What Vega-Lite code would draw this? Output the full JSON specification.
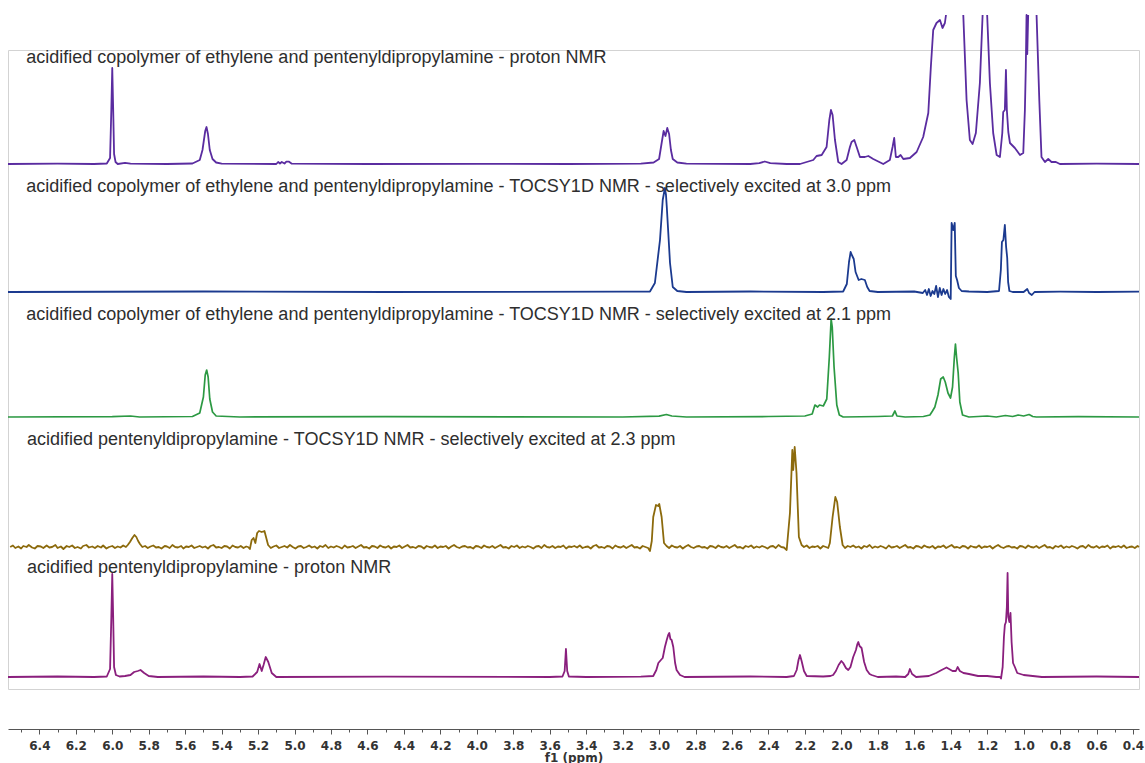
{
  "$schema": "https://vega.github.io/schema/vega-lite/v6.json",
  "autosize": "none",
  "width": 1131,
  "height": 639,
  "padding": {"left": 8, "top": 50, "right": 6, "bottom": 74},
  "background": "white",
  "config": {
    "view": {"stroke": "#d3d3d3", "strokeWidth": 1},
    "line": {"strokeWidth": 1.6, "invalid": "break-paths-filter-domains", "strokeJoin": "round"}
  },
  "datasets": {
    "copolymer_proton": [
      {"ppm": 6.572, "i": 0}, {"ppm": 6.3, "i": 0.3}, {"ppm": 6.1, "i": 0}, {"ppm": 6.03, "i": 0.5},
      {"ppm": 6.012, "i": 6}, {"ppm": 6.005, "i": 55}, {"ppm": 6.0, "i": 96}, {"ppm": 5.995, "i": 55},
      {"ppm": 5.99, "i": 10}, {"ppm": 5.982, "i": 2}, {"ppm": 5.97, "i": 0}, {"ppm": 5.93, "i": 1.2},
      {"ppm": 5.9, "i": 0.3}, {"ppm": 5.7, "i": 0}, {"ppm": 5.56, "i": 0.5}, {"ppm": 5.52, "i": 4},
      {"ppm": 5.505, "i": 14}, {"ppm": 5.49, "i": 33}, {"ppm": 5.483, "i": 37}, {"ppm": 5.475, "i": 30},
      {"ppm": 5.465, "i": 14}, {"ppm": 5.45, "i": 5}, {"ppm": 5.43, "i": 1.5}, {"ppm": 5.4, "i": 0.3},
      {"ppm": 5.1, "i": 0}, {"ppm": 5.09, "i": 2}, {"ppm": 5.08, "i": 0.5}, {"ppm": 5.07, "i": 2},
      {"ppm": 5.055, "i": 0.5}, {"ppm": 5.045, "i": 2.3}, {"ppm": 5.03, "i": 2.3}, {"ppm": 5.015, "i": 0.3},
      {"ppm": 4.6, "i": 0}, {"ppm": 4.0, "i": 0.2}, {"ppm": 3.5, "i": 0}, {"ppm": 3.1, "i": 0.3},
      {"ppm": 3.03, "i": 1.5}, {"ppm": 3.0, "i": 5}, {"ppm": 2.985, "i": 22}, {"ppm": 2.975, "i": 33},
      {"ppm": 2.965, "i": 28}, {"ppm": 2.955, "i": 36}, {"ppm": 2.945, "i": 30}, {"ppm": 2.935, "i": 14},
      {"ppm": 2.925, "i": 5}, {"ppm": 2.9, "i": 1.5}, {"ppm": 2.85, "i": 0.3}, {"ppm": 2.5, "i": 0},
      {"ppm": 2.45, "i": 0.8}, {"ppm": 2.42, "i": 2.5}, {"ppm": 2.39, "i": 0.8}, {"ppm": 2.3, "i": 0},
      {"ppm": 2.227, "i": 0}, {"ppm": 2.154, "i": 4}, {"ppm": 2.136, "i": 8}, {"ppm": 2.108, "i": 9},
      {"ppm": 2.081, "i": 17}, {"ppm": 2.066, "i": 44}, {"ppm": 2.057, "i": 54}, {"ppm": 2.048, "i": 49},
      {"ppm": 2.035, "i": 24}, {"ppm": 2.017, "i": 2}, {"ppm": 1.999, "i": 0}, {"ppm": 1.971, "i": 4},
      {"ppm": 1.953, "i": 17}, {"ppm": 1.944, "i": 22}, {"ppm": 1.929, "i": 24}, {"ppm": 1.916, "i": 17},
      {"ppm": 1.898, "i": 7}, {"ppm": 1.871, "i": 7}, {"ppm": 1.852, "i": 8}, {"ppm": 1.825, "i": 5},
      {"ppm": 1.77, "i": 0}, {"ppm": 1.734, "i": 4}, {"ppm": 1.719, "i": 17}, {"ppm": 1.71, "i": 26},
      {"ppm": 1.701, "i": 7}, {"ppm": 1.688, "i": 7}, {"ppm": 1.675, "i": 9}, {"ppm": 1.66, "i": 5},
      {"ppm": 1.624, "i": 6}, {"ppm": 1.587, "i": 12}, {"ppm": 1.551, "i": 27}, {"ppm": 1.523, "i": 51},
      {"ppm": 1.509, "i": 97}, {"ppm": 1.496, "i": 134}, {"ppm": 1.478, "i": 141}, {"ppm": 1.459, "i": 144},
      {"ppm": 1.445, "i": 136}, {"ppm": 1.432, "i": 141}, {"ppm": 1.426, "i": 149}, {"ppm": 1.38, "i": null},
      {"ppm": 1.331, "i": 149}, {"ppm": 1.313, "i": 64}, {"ppm": 1.295, "i": 24}, {"ppm": 1.28, "i": 20},
      {"ppm": 1.262, "i": 31}, {"ppm": 1.24, "i": 81}, {"ppm": 1.225, "i": 149}, {"ppm": 1.21, "i": null},
      {"ppm": 1.2, "i": 149}, {"ppm": 1.185, "i": 81}, {"ppm": 1.167, "i": 31}, {"ppm": 1.148, "i": 9},
      {"ppm": 1.13, "i": 7}, {"ppm": 1.117, "i": 31}, {"ppm": 1.112, "i": 52}, {"ppm": 1.103, "i": 54},
      {"ppm": 1.097, "i": 94}, {"ppm": 1.092, "i": 54}, {"ppm": 1.084, "i": 32}, {"ppm": 1.075, "i": 21},
      {"ppm": 1.048, "i": 16}, {"ppm": 1.02, "i": 9}, {"ppm": 1.002, "i": 11}, {"ppm": 0.993, "i": 54},
      {"ppm": 0.988, "i": 97}, {"ppm": 0.984, "i": 149}, {"ppm": 0.98, "i": 110}, {"ppm": 0.975, "i": 149},
      {"ppm": 0.95, "i": null}, {"ppm": 0.929, "i": 149}, {"ppm": 0.914, "i": 64}, {"ppm": 0.902, "i": 7},
      {"ppm": 0.883, "i": 2}, {"ppm": 0.865, "i": 5}, {"ppm": 0.847, "i": 2}, {"ppm": 0.823, "i": 2},
      {"ppm": 0.801, "i": 0}, {"ppm": 0.6, "i": 0.3}, {"ppm": 0.367, "i": 0}
    ],
    "copolymer_tocsy_30": [
      {"ppm": 6.572, "i": 0}, {"ppm": 5.5, "i": 0.5}, {"ppm": 4.5, "i": 0}, {"ppm": 3.2, "i": 0.3},
      {"ppm": 3.05, "i": 0.5}, {"ppm": 3.023, "i": 9}, {"ppm": 2.995, "i": 52}, {"ppm": 2.98, "i": 92},
      {"ppm": 2.972, "i": 100}, {"ppm": 2.968, "i": 104}, {"ppm": 2.962, "i": 97}, {"ppm": 2.958, "i": 86},
      {"ppm": 2.951, "i": 64}, {"ppm": 2.94, "i": 29}, {"ppm": 2.925, "i": 5}, {"ppm": 2.9, "i": 1},
      {"ppm": 2.85, "i": 0}, {"ppm": 2.5, "i": 0.5}, {"ppm": 2.1, "i": 0}, {"ppm": 1.99, "i": 0.5},
      {"ppm": 1.97, "i": 8}, {"ppm": 1.958, "i": 30}, {"ppm": 1.949, "i": 40}, {"ppm": 1.94, "i": 36},
      {"ppm": 1.932, "i": 33}, {"ppm": 1.922, "i": 20}, {"ppm": 1.905, "i": 12}, {"ppm": 1.89, "i": 13},
      {"ppm": 1.871, "i": 12}, {"ppm": 1.858, "i": 5}, {"ppm": 1.845, "i": 1}, {"ppm": 1.8, "i": 0},
      {"ppm": 1.6, "i": 0.5}, {"ppm": 1.553, "i": -1}, {"ppm": 1.54, "i": 2}, {"ppm": 1.53, "i": -3},
      {"ppm": 1.52, "i": 3}, {"ppm": 1.51, "i": -4}, {"ppm": 1.5, "i": 1}, {"ppm": 1.49, "i": -2},
      {"ppm": 1.48, "i": 6}, {"ppm": 1.47, "i": -5}, {"ppm": 1.46, "i": 4}, {"ppm": 1.45, "i": -3},
      {"ppm": 1.44, "i": 3}, {"ppm": 1.43, "i": -2}, {"ppm": 1.42, "i": 2}, {"ppm": 1.41, "i": -5},
      {"ppm": 1.40, "i": -7}, {"ppm": 1.395, "i": 69}, {"ppm": 1.386, "i": 62}, {"ppm": 1.378, "i": 69},
      {"ppm": 1.372, "i": 16}, {"ppm": 1.365, "i": 12}, {"ppm": 1.355, "i": 4}, {"ppm": 1.34, "i": 1},
      {"ppm": 1.3, "i": 0.5}, {"ppm": 1.2, "i": 0}, {"ppm": 1.135, "i": 1}, {"ppm": 1.125, "i": 22},
      {"ppm": 1.119, "i": 50}, {"ppm": 1.111, "i": 52}, {"ppm": 1.103, "i": 67}, {"ppm": 1.096, "i": 45},
      {"ppm": 1.09, "i": 34}, {"ppm": 1.085, "i": 10}, {"ppm": 1.078, "i": 1}, {"ppm": 1.06, "i": 0},
      {"ppm": 1.0, "i": 0}, {"ppm": 0.98, "i": 3}, {"ppm": 0.97, "i": -1}, {"ppm": 0.955, "i": -3},
      {"ppm": 0.94, "i": 0}, {"ppm": 0.8, "i": 0.3}, {"ppm": 0.6, "i": 0}, {"ppm": 0.367, "i": 0.3}
    ],
    "copolymer_tocsy_21": [
      {"ppm": 6.572, "i": 0}, {"ppm": 6.0, "i": 0.3}, {"ppm": 5.9, "i": 1}, {"ppm": 5.85, "i": 0},
      {"ppm": 5.56, "i": 0.5}, {"ppm": 5.52, "i": 4}, {"ppm": 5.5, "i": 20}, {"ppm": 5.49, "i": 42},
      {"ppm": 5.482, "i": 47}, {"ppm": 5.474, "i": 40}, {"ppm": 5.465, "i": 18}, {"ppm": 5.45, "i": 5},
      {"ppm": 5.43, "i": 1}, {"ppm": 5.3, "i": 0}, {"ppm": 4.5, "i": 0.3}, {"ppm": 3.2, "i": 0},
      {"ppm": 3.0, "i": 0.8}, {"ppm": 2.96, "i": 2.5}, {"ppm": 2.93, "i": 1}, {"ppm": 2.85, "i": 0},
      {"ppm": 2.4, "i": 0.5}, {"ppm": 2.2, "i": 1}, {"ppm": 2.16, "i": 3}, {"ppm": 2.145, "i": 12},
      {"ppm": 2.13, "i": 10}, {"ppm": 2.12, "i": 12}, {"ppm": 2.099, "i": 11}, {"ppm": 2.08, "i": 18},
      {"ppm": 2.066, "i": 60}, {"ppm": 2.056, "i": 98}, {"ppm": 2.05, "i": 90}, {"ppm": 2.04, "i": 50},
      {"ppm": 2.025, "i": 12}, {"ppm": 2.011, "i": 2}, {"ppm": 1.99, "i": 0}, {"ppm": 1.8, "i": 0.5},
      {"ppm": 1.72, "i": 1}, {"ppm": 1.706, "i": 6}, {"ppm": 1.695, "i": 1}, {"ppm": 1.65, "i": 0},
      {"ppm": 1.55, "i": 0.5}, {"ppm": 1.514, "i": 2}, {"ppm": 1.5, "i": 6}, {"ppm": 1.487, "i": 10},
      {"ppm": 1.47, "i": 22}, {"ppm": 1.455, "i": 38}, {"ppm": 1.441, "i": 40}, {"ppm": 1.43, "i": 35},
      {"ppm": 1.415, "i": 24}, {"ppm": 1.401, "i": 19}, {"ppm": 1.39, "i": 30}, {"ppm": 1.38, "i": 60},
      {"ppm": 1.374, "i": 73}, {"ppm": 1.368, "i": 60}, {"ppm": 1.359, "i": 44}, {"ppm": 1.35, "i": 15},
      {"ppm": 1.335, "i": 2}, {"ppm": 1.3, "i": 0}, {"ppm": 1.2, "i": 1}, {"ppm": 1.15, "i": 0},
      {"ppm": 1.1, "i": 1.5}, {"ppm": 1.06, "i": 0.5}, {"ppm": 1.03, "i": 2}, {"ppm": 1.0, "i": 1},
      {"ppm": 0.97, "i": 2.5}, {"ppm": 0.95, "i": 0.5}, {"ppm": 0.93, "i": 0}, {"ppm": 0.7, "i": 0.3},
      {"ppm": 0.367, "i": 0}
    ],
    "pentenyl_tocsy_23": [
      {"ppm": 6.56, "i": 0}, {"ppm": 6.545, "i": 1.5}, {"ppm": 6.532, "i": -1}, {"ppm": 6.515, "i": 0.5},
      {"ppm": 6.5, "i": -1.5}, {"ppm": 6.488, "i": 1}, {"ppm": 6.47, "i": 0}, {"ppm": 6.458, "i": 2},
      {"ppm": 6.44, "i": -0.5}, {"ppm": 6.425, "i": -1.5}, {"ppm": 6.41, "i": 1}, {"ppm": 6.392, "i": 0.5},
      {"ppm": 6.378, "i": -1}, {"ppm": 6.36, "i": 1.5}, {"ppm": 6.345, "i": -0.5}, {"ppm": 6.33, "i": 0},
      {"ppm": 6.312, "i": 2}, {"ppm": 6.3, "i": -1}, {"ppm": 6.282, "i": 0.5}, {"ppm": 6.268, "i": -2},
      {"ppm": 6.25, "i": 1}, {"ppm": 6.236, "i": 0}, {"ppm": 6.22, "i": 1.5}, {"ppm": 6.205, "i": -1},
      {"ppm": 6.19, "i": 0}, {"ppm": 6.172, "i": -1.5}, {"ppm": 6.16, "i": 1}, {"ppm": 6.142, "i": 2},
      {"ppm": 6.128, "i": -0.5}, {"ppm": 6.11, "i": 0.5}, {"ppm": 6.095, "i": -1}, {"ppm": 6.08, "i": 1},
      {"ppm": 6.062, "i": -0.5}, {"ppm": 6.05, "i": 1.5}, {"ppm": 6.032, "i": -1.5}, {"ppm": 6.018, "i": 0},
      {"ppm": 6.0, "i": 1}, {"ppm": 5.985, "i": -1}, {"ppm": 5.97, "i": 0.5}, {"ppm": 5.955, "i": -0.5},
      {"ppm": 5.94, "i": 1.5}, {"ppm": 5.925, "i": 0}, {"ppm": 5.915, "i": 2}, {"ppm": 5.903, "i": 5},
      {"ppm": 5.89, "i": 9}, {"ppm": 5.878, "i": 12}, {"ppm": 5.868, "i": 10}, {"ppm": 5.858, "i": 6},
      {"ppm": 5.848, "i": 3}, {"ppm": 5.835, "i": 0}, {"ppm": 5.82, "i": 1}, {"ppm": 5.805, "i": -1},
      {"ppm": 5.79, "i": 0.5}, {"ppm": 5.775, "i": 1.5}, {"ppm": 5.76, "i": -0.5}, {"ppm": 5.745, "i": 0},
      {"ppm": 5.73, "i": -1.5}, {"ppm": 5.712, "i": 1}, {"ppm": 5.7, "i": 0.5}, {"ppm": 5.685, "i": -1},
      {"ppm": 5.67, "i": 2}, {"ppm": 5.655, "i": 0}, {"ppm": 5.64, "i": -0.5}, {"ppm": 5.622, "i": 1},
      {"ppm": 5.61, "i": -1.5}, {"ppm": 5.595, "i": 0.5}, {"ppm": 5.58, "i": 0}, {"ppm": 5.565, "i": 1.5},
      {"ppm": 5.55, "i": -1}, {"ppm": 5.535, "i": 0}, {"ppm": 5.52, "i": 1}, {"ppm": 5.505, "i": -0.5},
      {"ppm": 5.49, "i": 0.5}, {"ppm": 5.475, "i": -1.5}, {"ppm": 5.46, "i": 1}, {"ppm": 5.445, "i": 2},
      {"ppm": 5.43, "i": -0.5}, {"ppm": 5.415, "i": 0}, {"ppm": 5.4, "i": -1}, {"ppm": 5.385, "i": 1},
      {"ppm": 5.37, "i": 0.5}, {"ppm": 5.355, "i": -1.5}, {"ppm": 5.34, "i": 1.5}, {"ppm": 5.325, "i": 0},
      {"ppm": 5.31, "i": -0.5}, {"ppm": 5.295, "i": 1}, {"ppm": 5.28, "i": -1}, {"ppm": 5.265, "i": 0.5},
      {"ppm": 5.255, "i": 0}, {"ppm": 5.245, "i": -2}, {"ppm": 5.235, "i": 7}, {"ppm": 5.225, "i": 9},
      {"ppm": 5.215, "i": 4}, {"ppm": 5.205, "i": 14}, {"ppm": 5.195, "i": 16}, {"ppm": 5.18, "i": 15},
      {"ppm": 5.165, "i": 16}, {"ppm": 5.155, "i": 9}, {"ppm": 5.145, "i": 2}, {"ppm": 5.13, "i": -1},
      {"ppm": 5.115, "i": 0.5}, {"ppm": 5.1, "i": 1.5}, {"ppm": 5.085, "i": -1}, {"ppm": 5.07, "i": 0},
      {"ppm": 5.055, "i": 1}, {"ppm": 5.04, "i": -0.5}, {"ppm": 5.025, "i": 2}, {"ppm": 5.01, "i": 0},
      {"ppm": 4.995, "i": -1.5}, {"ppm": 4.98, "i": 0.5}, {"ppm": 4.965, "i": 1}, {"ppm": 4.95, "i": -1},
      {"ppm": 4.935, "i": 0}, {"ppm": 4.92, "i": 1.5}, {"ppm": 4.905, "i": -0.5}, {"ppm": 4.89, "i": 0.5},
      {"ppm": 4.875, "i": -1.5}, {"ppm": 4.86, "i": 1}, {"ppm": 4.845, "i": 0}, {"ppm": 4.83, "i": 2},
      {"ppm": 4.815, "i": -1}, {"ppm": 4.8, "i": 0.5}, {"ppm": 4.785, "i": -0.5}, {"ppm": 4.77, "i": 1},
      {"ppm": 4.755, "i": 0}, {"ppm": 4.74, "i": -1.5}, {"ppm": 4.725, "i": 1.5}, {"ppm": 4.71, "i": -0.5},
      {"ppm": 4.695, "i": 0}, {"ppm": 4.68, "i": 1}, {"ppm": 4.665, "i": -1}, {"ppm": 4.65, "i": 0.5},
      {"ppm": 4.635, "i": 2}, {"ppm": 4.62, "i": -0.5}, {"ppm": 4.605, "i": 0}, {"ppm": 4.59, "i": -1.5},
      {"ppm": 4.575, "i": 1}, {"ppm": 4.56, "i": 0.5}, {"ppm": 4.545, "i": -1}, {"ppm": 4.53, "i": 1.5},
      {"ppm": 4.515, "i": 0}, {"ppm": 4.5, "i": -0.5}, {"ppm": 4.485, "i": 1}, {"ppm": 4.47, "i": -1.5},
      {"ppm": 4.455, "i": 0.5}, {"ppm": 4.44, "i": 0}, {"ppm": 4.425, "i": 1.5}, {"ppm": 4.41, "i": -1},
      {"ppm": 4.395, "i": 0.5}, {"ppm": 4.38, "i": 2}, {"ppm": 4.365, "i": -0.5}, {"ppm": 4.35, "i": 0},
      {"ppm": 4.335, "i": -1}, {"ppm": 4.32, "i": 1}, {"ppm": 4.305, "i": 0.5}, {"ppm": 4.29, "i": -1.5},
      {"ppm": 4.275, "i": 1}, {"ppm": 4.26, "i": 0}, {"ppm": 4.245, "i": -0.5}, {"ppm": 4.23, "i": 1.5},
      {"ppm": 4.215, "i": -1}, {"ppm": 4.2, "i": 0.5}, {"ppm": 4.185, "i": 0}, {"ppm": 4.17, "i": 1},
      {"ppm": 4.155, "i": -1.5}, {"ppm": 4.14, "i": 0.5}, {"ppm": 4.125, "i": 2}, {"ppm": 4.11, "i": 0},
      {"ppm": 4.095, "i": -1}, {"ppm": 4.08, "i": 0.5}, {"ppm": 4.065, "i": 1}, {"ppm": 4.05, "i": -0.5},
      {"ppm": 4.035, "i": 0}, {"ppm": 4.02, "i": -1.5}, {"ppm": 4.005, "i": 1}, {"ppm": 3.99, "i": 0.5},
      {"ppm": 3.975, "i": -1}, {"ppm": 3.96, "i": 1.5}, {"ppm": 3.945, "i": 0}, {"ppm": 3.93, "i": -0.5},
      {"ppm": 3.915, "i": 1}, {"ppm": 3.9, "i": -1}, {"ppm": 3.885, "i": 0.5}, {"ppm": 3.87, "i": 2},
      {"ppm": 3.855, "i": -0.5}, {"ppm": 3.84, "i": 0}, {"ppm": 3.825, "i": -1.5}, {"ppm": 3.81, "i": 1},
      {"ppm": 3.795, "i": 0}, {"ppm": 3.78, "i": 1.5}, {"ppm": 3.765, "i": -1}, {"ppm": 3.75, "i": 0.5},
      {"ppm": 3.735, "i": -0.5}, {"ppm": 3.72, "i": 1}, {"ppm": 3.705, "i": 0}, {"ppm": 3.69, "i": -1.5},
      {"ppm": 3.675, "i": 0.5}, {"ppm": 3.66, "i": 1}, {"ppm": 3.645, "i": -1}, {"ppm": 3.63, "i": 2},
      {"ppm": 3.615, "i": 0}, {"ppm": 3.6, "i": -0.5}, {"ppm": 3.585, "i": 1}, {"ppm": 3.57, "i": -1},
      {"ppm": 3.555, "i": 0.5}, {"ppm": 3.54, "i": 0}, {"ppm": 3.525, "i": 1.5}, {"ppm": 3.51, "i": -1.5},
      {"ppm": 3.495, "i": 0.5}, {"ppm": 3.48, "i": 0}, {"ppm": 3.465, "i": 1}, {"ppm": 3.45, "i": -0.5},
      {"ppm": 3.435, "i": 1.5}, {"ppm": 3.42, "i": -1}, {"ppm": 3.405, "i": 0}, {"ppm": 3.39, "i": 0.5},
      {"ppm": 3.375, "i": -1.5}, {"ppm": 3.36, "i": 1}, {"ppm": 3.345, "i": 2}, {"ppm": 3.33, "i": -0.5},
      {"ppm": 3.315, "i": 0}, {"ppm": 3.3, "i": -1}, {"ppm": 3.285, "i": 1}, {"ppm": 3.27, "i": 0.5},
      {"ppm": 3.255, "i": -1.5}, {"ppm": 3.24, "i": 1.5}, {"ppm": 3.225, "i": 0}, {"ppm": 3.21, "i": -0.5},
      {"ppm": 3.195, "i": 1}, {"ppm": 3.18, "i": -1}, {"ppm": 3.165, "i": 0.5}, {"ppm": 3.15, "i": 2},
      {"ppm": 3.135, "i": -0.5}, {"ppm": 3.12, "i": 0}, {"ppm": 3.105, "i": -1.5}, {"ppm": 3.09, "i": 1},
      {"ppm": 3.075, "i": 0}, {"ppm": 3.06, "i": -1}, {"ppm": 3.05, "i": -4}, {"ppm": 3.04, "i": 6},
      {"ppm": 3.032, "i": 30}, {"ppm": 3.017, "i": 42}, {"ppm": 3.005, "i": 41}, {"ppm": 2.999, "i": 43},
      {"ppm": 2.986, "i": 30}, {"ppm": 2.973, "i": 4}, {"ppm": 2.959, "i": 1}, {"ppm": 2.945, "i": -1},
      {"ppm": 2.93, "i": 1.5}, {"ppm": 2.915, "i": 0}, {"ppm": 2.9, "i": -0.5}, {"ppm": 2.885, "i": 1},
      {"ppm": 2.87, "i": -1.5}, {"ppm": 2.855, "i": 0.5}, {"ppm": 2.84, "i": 2}, {"ppm": 2.825, "i": 0},
      {"ppm": 2.81, "i": -1}, {"ppm": 2.795, "i": 0.5}, {"ppm": 2.78, "i": 1}, {"ppm": 2.765, "i": -0.5},
      {"ppm": 2.75, "i": 0}, {"ppm": 2.735, "i": -1.5}, {"ppm": 2.72, "i": 1}, {"ppm": 2.705, "i": 0.5},
      {"ppm": 2.69, "i": -1}, {"ppm": 2.675, "i": 1.5}, {"ppm": 2.66, "i": 0}, {"ppm": 2.645, "i": -0.5},
      {"ppm": 2.63, "i": 1}, {"ppm": 2.615, "i": -1}, {"ppm": 2.6, "i": 0.5}, {"ppm": 2.585, "i": 2},
      {"ppm": 2.57, "i": -0.5}, {"ppm": 2.555, "i": 0}, {"ppm": 2.54, "i": -1.5}, {"ppm": 2.525, "i": 1},
      {"ppm": 2.51, "i": 0}, {"ppm": 2.495, "i": 1.5}, {"ppm": 2.48, "i": -1}, {"ppm": 2.465, "i": 0.5},
      {"ppm": 2.45, "i": -0.5}, {"ppm": 2.435, "i": 1}, {"ppm": 2.42, "i": 0}, {"ppm": 2.405, "i": -1.5},
      {"ppm": 2.39, "i": 0.5}, {"ppm": 2.375, "i": 1}, {"ppm": 2.36, "i": -1}, {"ppm": 2.345, "i": 2},
      {"ppm": 2.33, "i": 0}, {"ppm": 2.315, "i": -0.5}, {"ppm": 2.3, "i": -3}, {"ppm": 2.282, "i": 34},
      {"ppm": 2.269, "i": 97}, {"ppm": 2.264, "i": 77}, {"ppm": 2.256, "i": 100}, {"ppm": 2.246, "i": 74},
      {"ppm": 2.233, "i": 10}, {"ppm": 2.218, "i": 2}, {"ppm": 2.205, "i": 0}, {"ppm": 2.19, "i": 1.5},
      {"ppm": 2.175, "i": -1}, {"ppm": 2.16, "i": 0.5}, {"ppm": 2.145, "i": 0}, {"ppm": 2.13, "i": 1},
      {"ppm": 2.115, "i": -1.5}, {"ppm": 2.1, "i": 1}, {"ppm": 2.085, "i": 0}, {"ppm": 2.072, "i": -1},
      {"ppm": 2.063, "i": 4}, {"ppm": 2.048, "i": 30}, {"ppm": 2.033, "i": 50}, {"ppm": 2.023, "i": 45},
      {"ppm": 2.008, "i": 20}, {"ppm": 1.993, "i": 2}, {"ppm": 1.98, "i": -1}, {"ppm": 1.965, "i": 1},
      {"ppm": 1.95, "i": 0}, {"ppm": 1.935, "i": 1.5}, {"ppm": 1.92, "i": -0.5}, {"ppm": 1.905, "i": 0.5},
      {"ppm": 1.89, "i": -1.5}, {"ppm": 1.875, "i": 1}, {"ppm": 1.86, "i": 0}, {"ppm": 1.845, "i": 2},
      {"ppm": 1.83, "i": -1}, {"ppm": 1.815, "i": 0.5}, {"ppm": 1.8, "i": -0.5}, {"ppm": 1.785, "i": 1},
      {"ppm": 1.77, "i": 0}, {"ppm": 1.755, "i": -1.5}, {"ppm": 1.74, "i": 1.5}, {"ppm": 1.725, "i": -0.5},
      {"ppm": 1.71, "i": 0}, {"ppm": 1.695, "i": 1}, {"ppm": 1.68, "i": -1}, {"ppm": 1.665, "i": 0.5},
      {"ppm": 1.65, "i": 2}, {"ppm": 1.635, "i": -0.5}, {"ppm": 1.62, "i": 0}, {"ppm": 1.605, "i": -1.5},
      {"ppm": 1.59, "i": 1}, {"ppm": 1.575, "i": 0.5}, {"ppm": 1.56, "i": -1}, {"ppm": 1.545, "i": 1.5},
      {"ppm": 1.53, "i": 0}, {"ppm": 1.515, "i": -0.5}, {"ppm": 1.5, "i": 1}, {"ppm": 1.485, "i": -1.5},
      {"ppm": 1.47, "i": 0.5}, {"ppm": 1.455, "i": 0}, {"ppm": 1.44, "i": 1.5}, {"ppm": 1.425, "i": -1},
      {"ppm": 1.41, "i": 0.5}, {"ppm": 1.395, "i": 2}, {"ppm": 1.38, "i": -0.5}, {"ppm": 1.365, "i": 0},
      {"ppm": 1.35, "i": -1}, {"ppm": 1.335, "i": 1}, {"ppm": 1.32, "i": 0.5}, {"ppm": 1.305, "i": -1.5},
      {"ppm": 1.29, "i": 1}, {"ppm": 1.275, "i": 0}, {"ppm": 1.26, "i": -0.5}, {"ppm": 1.245, "i": 1.5},
      {"ppm": 1.23, "i": -1}, {"ppm": 1.215, "i": 0.5}, {"ppm": 1.2, "i": 0}, {"ppm": 1.185, "i": 1},
      {"ppm": 1.17, "i": -1.5}, {"ppm": 1.155, "i": 0.5}, {"ppm": 1.14, "i": 2}, {"ppm": 1.125, "i": 0},
      {"ppm": 1.11, "i": -1}, {"ppm": 1.095, "i": 0.5}, {"ppm": 1.08, "i": 1}, {"ppm": 1.065, "i": -0.5},
      {"ppm": 1.05, "i": 0}, {"ppm": 1.035, "i": -1.5}, {"ppm": 1.02, "i": 1}, {"ppm": 1.005, "i": 0.5},
      {"ppm": 0.99, "i": -1}, {"ppm": 0.975, "i": 1.5}, {"ppm": 0.96, "i": 0}, {"ppm": 0.945, "i": -0.5},
      {"ppm": 0.93, "i": 1}, {"ppm": 0.915, "i": -1}, {"ppm": 0.9, "i": 0.5}, {"ppm": 0.885, "i": 2},
      {"ppm": 0.87, "i": -0.5}, {"ppm": 0.855, "i": 0}, {"ppm": 0.84, "i": -1.5}, {"ppm": 0.825, "i": 1},
      {"ppm": 0.81, "i": 0}, {"ppm": 0.795, "i": 1.5}, {"ppm": 0.78, "i": -1}, {"ppm": 0.765, "i": 0.5},
      {"ppm": 0.75, "i": -0.5}, {"ppm": 0.735, "i": 1}, {"ppm": 0.72, "i": 0}, {"ppm": 0.705, "i": -1.5},
      {"ppm": 0.69, "i": 0.5}, {"ppm": 0.675, "i": 1}, {"ppm": 0.66, "i": -1}, {"ppm": 0.645, "i": 2},
      {"ppm": 0.63, "i": 0}, {"ppm": 0.615, "i": -0.5}, {"ppm": 0.6, "i": 1}, {"ppm": 0.585, "i": -1},
      {"ppm": 0.57, "i": 0.5}, {"ppm": 0.555, "i": 0}, {"ppm": 0.54, "i": 1.5}, {"ppm": 0.525, "i": -1.5},
      {"ppm": 0.51, "i": 0.5}, {"ppm": 0.495, "i": 0}, {"ppm": 0.48, "i": 1}, {"ppm": 0.465, "i": -0.5},
      {"ppm": 0.45, "i": 1.5}, {"ppm": 0.435, "i": -1}, {"ppm": 0.42, "i": 0}, {"ppm": 0.405, "i": 0.5},
      {"ppm": 0.39, "i": -1}, {"ppm": 0.375, "i": 1}, {"ppm": 0.367, "i": 0}
    ],
    "pentenyl_proton": [
      {"ppm": 6.572, "i": 0}, {"ppm": 6.3, "i": 0.5}, {"ppm": 6.1, "i": 0}, {"ppm": 6.03, "i": 0.5},
      {"ppm": 6.012, "i": 8}, {"ppm": 6.005, "i": 60}, {"ppm": 6.0, "i": 103}, {"ppm": 5.995, "i": 60},
      {"ppm": 5.99, "i": 10}, {"ppm": 5.98, "i": 2}, {"ppm": 5.96, "i": 0.5}, {"ppm": 5.93, "i": 1},
      {"ppm": 5.9, "i": 2}, {"ppm": 5.88, "i": 5}, {"ppm": 5.86, "i": 6}, {"ppm": 5.845, "i": 7},
      {"ppm": 5.825, "i": 4}, {"ppm": 5.8, "i": 1}, {"ppm": 5.75, "i": 0}, {"ppm": 5.5, "i": 0.5},
      {"ppm": 5.3, "i": 0}, {"ppm": 5.23, "i": 0.5}, {"ppm": 5.205, "i": 5}, {"ppm": 5.192, "i": 13},
      {"ppm": 5.18, "i": 6}, {"ppm": 5.17, "i": 12}, {"ppm": 5.158, "i": 20}, {"ppm": 5.144, "i": 15},
      {"ppm": 5.125, "i": 4}, {"ppm": 5.1, "i": 0}, {"ppm": 4.5, "i": 0.3}, {"ppm": 3.6, "i": 0},
      {"ppm": 3.53, "i": 0.5}, {"ppm": 3.518, "i": 6}, {"ppm": 3.511, "i": 28}, {"ppm": 3.504, "i": 6},
      {"ppm": 3.495, "i": 0.5}, {"ppm": 3.4, "i": 0}, {"ppm": 3.1, "i": 0.3}, {"ppm": 3.032, "i": 1},
      {"ppm": 3.015, "i": 7}, {"ppm": 3.004, "i": 14}, {"ppm": 2.99, "i": 17}, {"ppm": 2.98, "i": 19},
      {"ppm": 2.968, "i": 30}, {"ppm": 2.958, "i": 37}, {"ppm": 2.95, "i": 42}, {"ppm": 2.944, "i": 44},
      {"ppm": 2.938, "i": 38}, {"ppm": 2.931, "i": 37}, {"ppm": 2.922, "i": 30}, {"ppm": 2.912, "i": 14},
      {"ppm": 2.904, "i": 7}, {"ppm": 2.885, "i": 2}, {"ppm": 2.86, "i": 0}, {"ppm": 2.5, "i": 0.5},
      {"ppm": 2.3, "i": 0}, {"ppm": 2.26, "i": 1}, {"ppm": 2.245, "i": 7}, {"ppm": 2.235, "i": 17},
      {"ppm": 2.227, "i": 22}, {"ppm": 2.218, "i": 16}, {"ppm": 2.205, "i": 6}, {"ppm": 2.19, "i": 1},
      {"ppm": 2.1, "i": 0.5}, {"ppm": 2.06, "i": 1}, {"ppm": 2.045, "i": 2}, {"ppm": 2.03, "i": 6},
      {"ppm": 2.015, "i": 12}, {"ppm": 2.0, "i": 16}, {"ppm": 1.99, "i": 14}, {"ppm": 1.975, "i": 9},
      {"ppm": 1.962, "i": 7}, {"ppm": 1.95, "i": 10}, {"ppm": 1.935, "i": 20}, {"ppm": 1.92, "i": 27},
      {"ppm": 1.912, "i": 33}, {"ppm": 1.907, "i": 35}, {"ppm": 1.9, "i": 31}, {"ppm": 1.889, "i": 29},
      {"ppm": 1.875, "i": 15}, {"ppm": 1.861, "i": 7}, {"ppm": 1.845, "i": 3}, {"ppm": 1.834, "i": 2},
      {"ppm": 1.8, "i": 0}, {"ppm": 1.7, "i": 0.5}, {"ppm": 1.65, "i": 0}, {"ppm": 1.633, "i": 3},
      {"ppm": 1.624, "i": 8}, {"ppm": 1.612, "i": 3}, {"ppm": 1.59, "i": 0}, {"ppm": 1.52, "i": 1},
      {"ppm": 1.48, "i": 4}, {"ppm": 1.45, "i": 7}, {"ppm": 1.423, "i": 9.5}, {"ppm": 1.39, "i": 6},
      {"ppm": 1.372, "i": 6}, {"ppm": 1.362, "i": 10}, {"ppm": 1.35, "i": 6}, {"ppm": 1.33, "i": 4},
      {"ppm": 1.3, "i": 3}, {"ppm": 1.25, "i": 1}, {"ppm": 1.2, "i": 1}, {"ppm": 1.15, "i": 0},
      {"ppm": 1.13, "i": 0}, {"ppm": 1.124, "i": -1.5}, {"ppm": 1.115, "i": 10}, {"ppm": 1.108, "i": 40},
      {"ppm": 1.103, "i": 52}, {"ppm": 1.097, "i": 55}, {"ppm": 1.092, "i": 70}, {"ppm": 1.088, "i": 104},
      {"ppm": 1.084, "i": 60}, {"ppm": 1.078, "i": 55}, {"ppm": 1.072, "i": 64}, {"ppm": 1.066, "i": 35},
      {"ppm": 1.058, "i": 14}, {"ppm": 1.048, "i": 10}, {"ppm": 1.035, "i": 4}, {"ppm": 1.0, "i": 2},
      {"ppm": 0.95, "i": 1}, {"ppm": 0.9, "i": 0}, {"ppm": 0.6, "i": 0.5}, {"ppm": 0.367, "i": 0}
    ]
  },
  "layer": [
    {
      "encoding": {
        "x": {"field": "ppm", "type": "quantitative", "scale": {"domain": [0.367, 6.572], "reverse": true, "nice": false, "zero": false}, "axis": null},
        "y": {"field": "i", "type": "quantitative", "scale": {"domain": [0, 100], "range": [114, 14], "nice": false, "zero": false}, "axis": null}
      },
      "layer": [
        {"data": {"name": "copolymer_proton"}, "mark": {"type": "line", "color": "#5a2ca0", "strokeWidth": 1.8}},
        {
          "data": {"values": [{"ppm": 6.472, "i": 101, "label": "acidified copolymer of ethylene and pentenyldipropylamine - proton NMR"}]},
          "mark": {"type": "text", "align": "left", "baseline": "alphabetic", "font": "Liberation Sans", "fontSize": 18, "color": "#2e2e2e"},
          "encoding": {"text": {"field": "label"}}
        }
      ]
    },
    {
      "encoding": {
        "x": {"field": "ppm", "type": "quantitative", "scale": {"domain": [0.367, 6.572], "reverse": true, "nice": false, "zero": false}, "axis": null},
        "y": {"field": "i", "type": "quantitative", "scale": {"domain": [0, 100], "range": [242, 142], "nice": false, "zero": false}, "axis": null}
      },
      "layer": [
        {"data": {"name": "copolymer_tocsy_30"}, "mark": {"type": "line", "color": "#1b3a8f", "strokeWidth": 1.8}},
        {
          "data": {"values": [{"ppm": 6.472, "i": 100, "label": "acidified copolymer of ethylene and pentenyldipropylamine - TOCSY1D NMR - selectively excited at 3.0 ppm"}]},
          "mark": {"type": "text", "align": "left", "baseline": "alphabetic", "font": "Liberation Sans", "fontSize": 18, "color": "#2e2e2e"},
          "encoding": {"text": {"field": "label"}}
        }
      ]
    },
    {
      "encoding": {
        "x": {"field": "ppm", "type": "quantitative", "scale": {"domain": [0.367, 6.572], "reverse": true, "nice": false, "zero": false}, "axis": null},
        "y": {"field": "i", "type": "quantitative", "scale": {"domain": [0, 100], "range": [367, 267], "nice": false, "zero": false}, "axis": null}
      },
      "layer": [
        {"data": {"name": "copolymer_tocsy_21"}, "mark": {"type": "line", "color": "#2c9943", "strokeWidth": 1.7}},
        {
          "data": {"values": [{"ppm": 6.472, "i": 97, "label": "acidified copolymer of ethylene and pentenyldipropylamine - TOCSY1D NMR - selectively excited at 2.1 ppm"}]},
          "mark": {"type": "text", "align": "left", "baseline": "alphabetic", "font": "Liberation Sans", "fontSize": 18, "color": "#2e2e2e"},
          "encoding": {"text": {"field": "label"}}
        }
      ]
    },
    {
      "encoding": {
        "x": {
          "field": "ppm", "type": "quantitative",
          "scale": {"domain": [0.367, 6.572], "reverse": true, "nice": false, "zero": false},
          "axis": {
            "orient": "bottom",
            "values": [0.5, 0.7, 0.9, 1.1, 1.3, 1.5, 1.7, 1.9, 2.1, 2.3, 2.5, 2.7, 2.9, 3.1, 3.3, 3.5, 3.7, 3.9, 4.1, 4.3, 4.5, 4.7, 4.9, 5.1, 5.3, 5.5, 5.7, 5.9, 6.1, 6.3, 6.5],
            "domain": false, "labels": false, "title": null, "grid": false,
            "ticks": true, "tickSize": 3, "tickColor": "#555555", "tickWidth": 1, "offset": 40
          }
        },
        "y": {"field": "i", "type": "quantitative", "scale": {"domain": [0, 100], "range": [497, 397], "nice": false, "zero": false}, "axis": null}
      },
      "layer": [
        {"data": {"name": "pentenyl_tocsy_23"}, "mark": {"type": "line", "color": "#8c6a0c", "strokeWidth": 1.8}},
        {
          "data": {"values": [{"ppm": 6.468, "i": 102, "label": "acidified pentenyldipropylamine - TOCSY1D NMR - selectively excited at 2.3 ppm"}]},
          "mark": {"type": "text", "align": "left", "baseline": "alphabetic", "font": "Liberation Sans", "fontSize": 18, "color": "#2e2e2e"},
          "encoding": {"text": {"field": "label"}}
        }
      ]
    },
    {
      "encoding": {
        "x": {
          "field": "ppm", "type": "quantitative",
          "scale": {"domain": [0.367, 6.572], "reverse": true, "nice": false, "zero": false},
          "axis": {
            "orient": "bottom",
            "values": [0.4, 0.6, 0.8, 1.0, 1.2, 1.4, 1.6, 1.8, 2.0, 2.2, 2.4, 2.6, 2.8, 3.0, 3.2, 3.4, 3.6, 3.8, 4.0, 4.2, 4.4, 4.6, 4.8, 5.0, 5.2, 5.4, 5.6, 5.8, 6.0, 6.2, 6.4],
            "format": ".1f", "grid": false, "offset": 40,
            "domain": true, "domainColor": "#555555", "domainWidth": 1,
            "ticks": true, "tickSize": 5, "tickColor": "#555555", "tickWidth": 1,
            "labelFont": "DejaVu Sans", "labelFontSize": 12, "labelFontWeight": "bold", "labelColor": "#333333",
            "labelPadding": 6, "labelFlush": false, "labelOverlap": false,
            "title": "f1 (ppm)", "titleFont": "DejaVu Sans", "titleFontSize": 12, "titleFontWeight": "bold",
            "titleColor": "#333333", "titlePadding": 1
          }
        },
        "y": {"field": "i", "type": "quantitative", "scale": {"domain": [0, 100], "range": [627, 527], "nice": false, "zero": false}, "axis": null}
      },
      "layer": [
        {"data": {"name": "pentenyl_proton"}, "mark": {"type": "line", "color": "#8a1f7d", "strokeWidth": 1.8}},
        {
          "data": {"values": [{"ppm": 6.468, "i": 104, "label": "acidified pentenyldipropylamine - proton NMR"}]},
          "mark": {"type": "text", "align": "left", "baseline": "alphabetic", "font": "Liberation Sans", "fontSize": 18, "color": "#2e2e2e"},
          "encoding": {"text": {"field": "label"}}
        }
      ]
    }
  ],
  "resolve": {"scale": {"y": "independent"}, "axis": {"x": "independent", "y": "independent"}}
}
